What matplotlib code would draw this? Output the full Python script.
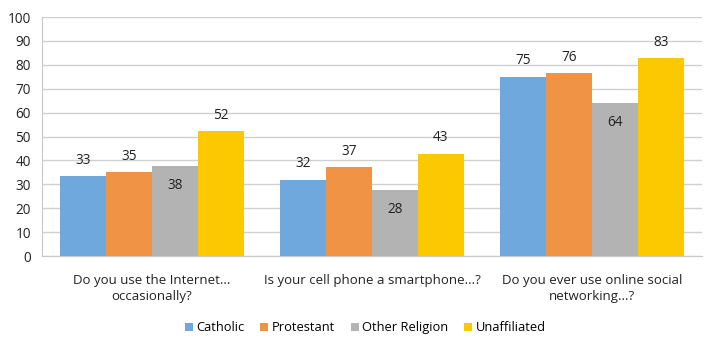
import numpy as np
import matplotlib
matplotlib.use('Agg')
import matplotlib.pyplot as plt

plt.rcParams['font.family'] = ['Open Sans', 'DejaVu Sans']

categories = ['Do you use the Internet...\noccasionally?',
              'Is your cell phone a smartphone...?',
              'Do you ever use online social\nnetworking...?']
series = ['Catholic', 'Protestant', 'Other Religion', 'Unaffiliated']
catholic = [33.4, 31.8, 74.9]
protestant = [35.1, 37.2, 76.4]
other_religion = [37.6, 27.6, 63.9]
unaffiliated = [52.3, 42.7, 82.8]
colors = ['#6fa8dc', '#f09344', '#b3b3b3', '#fcc800']

values = [catholic, protestant, other_religion, unaffiliated]

fig = plt.figure(figsize=(7.2, 3.51), dpi=100)
ax = fig.add_axes([42 / 720, 1 - 256 / 351, 660 / 720, 239 / 351])

x = np.arange(len(categories))
w = 0.209
for i, (name, vals, c) in enumerate(zip(series, values, colors)):
    pos = x + (i - 1.5) * w
    bars = ax.bar(pos, vals, width=w, color=c, label=name, zorder=3)
    for b, v in zip(bars, vals):
        # grau hat die labels innen
        if name == 'Other Religion':
            ax.annotate(f'{round(v)}', (b.get_x() + w / 2, v), xytext=(0, -19),
                        textcoords='offset pixels', ha='center', va='center',
                        fontsize=9.8, color='#222222')
        else:
            ax.annotate(f'{round(v)}', (b.get_x() + w / 2, v), xytext=(0, 16),
                        textcoords='offset pixels', ha='center', va='center',
                        fontsize=9.8, color='#222222')

ax.set_xlim(-0.5, 2.5)
ax.set_ylim(0, 100)
ax.set_yticks(range(0, 101, 10))
ax.set_xticks(x)
ax.set_xticklabels(categories, fontsize=9.5, color='#222222', linespacing=1.25)
ax.tick_params(axis='y', labelsize=9.8, colors='#222222', length=0, pad=8)
ax.tick_params(axis='x', length=0, pad=13)
ax.grid(axis='y', color='#d0d0d0', linewidth=1, zorder=0)
for s in ['top', 'right']:
    ax.spines[s].set_visible(False)
ax.spines['left'].set_color('#c8c8c8')
ax.spines['bottom'].set_color('#c8c8c8')

ax.legend(loc='center', bbox_to_anchor=(0.49, -0.3), ncol=4, frameon=False,
          fontsize=9.3, handlelength=0.6, handleheight=0.6, handletextpad=0.3,
          columnspacing=1.2)

fig.savefig('out.png', dpi=100)
